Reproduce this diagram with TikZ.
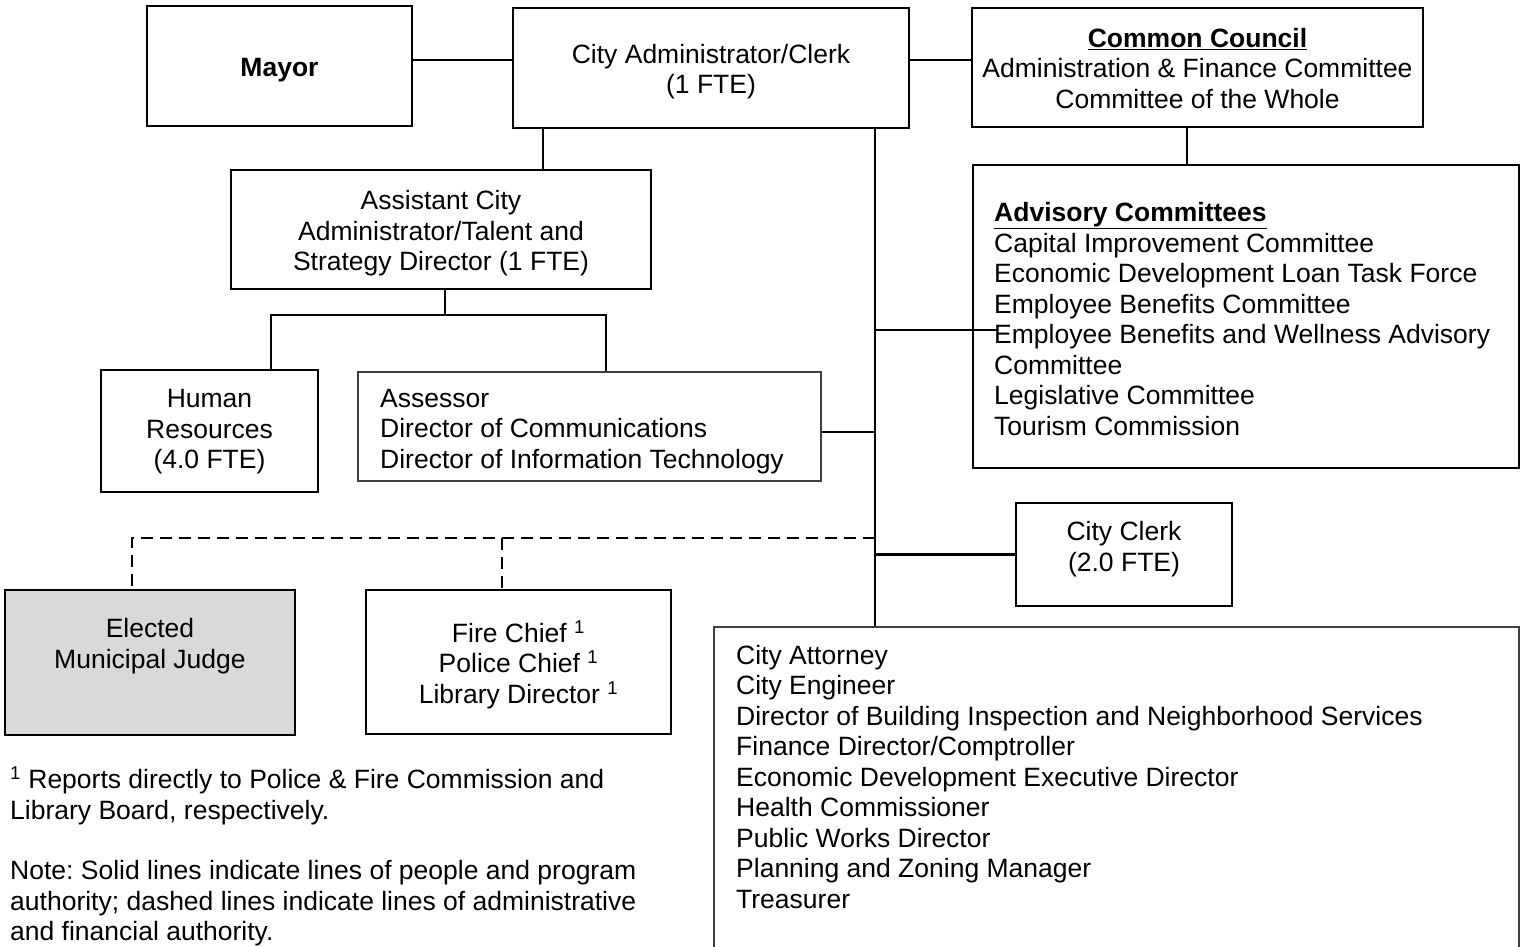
\documentclass[tikz,border=0pt]{standalone}
\usepackage{fontspec}
\setmainfont{Liberation Sans}
\usetikzlibrary{calc}
\definecolor{judgegray}{HTML}{D9D9D9}
\newcommand\chartfont{\fontsize{26.5}{30.5}\selectfont\frenchspacing}
\newcommand\supone{\textsuperscript{1}}
\begin{document}
\begin{tikzpicture}[x=1pt,y=-1pt,
  every node/.style={font=\chartfont, inner sep=0pt, text=black},
  bx/.style 2 args={draw=black, line width=2.4pt, minimum width=#1, minimum height=#2},
  thinbx/.style 2 args={draw=black!75, line width=1.6pt, minimum width=#1, minimum height=#2},
  conn/.style={draw=black, line width=2.2pt},
  dsh/.style={draw=black, line width=2.2pt, dash pattern=on 12pt off 7pt}]
\useasboundingbox (0,0) rectangle (1526,947);
\clip (0,0) rectangle (1526,947);
\fill[white] (0,0) rectangle (1526,947);

% boxes
\node[bx={265pt}{120pt}] (mayor) at (279.5,66) {};
\node[font=\chartfont\bfseries] (mayortxt) at (279.5,70) {Mayor};
\node[bx={396pt}{120pt}] (admin) at (711,68) {};
\node[align=center] (admintxt) at (711,71.5) {City Administrator/Clerk\\(1 FTE)};
\node[bx={451pt}{119pt}] (council) at (1197.5,67.5) {};
\node[align=center] (counciltxt) at (1197.5,68.5) {\underline{\textbf{Common Council}}\\Administration \& Finance Committee\\Committee of the Whole};
\node[bx={546pt}{303pt}] (adv) at (1246,316.5) {};
\node[anchor=west, align=left] (advtxt) at (994,319) {\underline{\textbf{Advisory Committees}}\\Capital Improvement Committee\\Economic Development Loan Task Force\\Employee Benefits Committee\\Employee Benefits and Wellness Advisory\\Committee\\Legislative Committee\\Tourism Commission};
\node[bx={420pt}{119pt}] (asst) at (441,229.5) {};
\node[align=center] (assttxt) at (441,233.5) {Assistant City\\Administrator/Talent and\\Strategy Director (1 FTE)};
\node[bx={217pt}{122pt}] (hr) at (209.5,431) {};
\node[align=center] (hrtxt) at (209.5,432) {Human\\Resources\\(4.0 FTE)};
\node[thinbx={463pt}{109pt}] (asr) at (589.5,426.5) {};
\node[anchor=west, align=left] (asrtxt) at (380,431.5) {Assessor\\Director of Communications\\Director of Information Technology};
\node[bx={216pt}{103pt}] (clerk) at (1124,554.5) {};
\node[align=center] (clerktxt) at (1124,549) {City Clerk\\(2.0 FTE)};
\node[bx={290pt}{145pt}, fill=judgegray] (judge) at (150,662.5) {};
\node[align=center] (judgetxt) at (150,646) {Elected\\Municipal Judge};
\node[bx={305pt}{144pt}] (fire) at (518.5,662) {};
\node[align=center] (firetxt) at (518.5,664.5) {Fire Chief \supone\\Police Chief \supone\\Library Director \supone};
\node[thinbx={805pt}{333pt}] (atty) at (1116.5,793.5) {};
\node[anchor=west, align=left] (attytxt) at (736,777) {City Attorney\\City Engineer\\Director of Building Inspection and Neighborhood Services\\Finance Director/Comptroller\\Economic Development Executive Director\\Health Commissioner\\Public Works Director\\Planning and Zoning Manager\\Treasurer};

% notes
\node[anchor=west, align=left] (fn) at (10,796) {\supone{} Reports directly to Police \& Fire Commission and\\Library Board, respectively.};
\node[anchor=west, align=left] (note) at (10,903.5) {Note: Solid lines indicate lines of people and program\\authority; dashed lines indicate lines of administrative\\and financial authority.};

% helper coordinates
\coordinate (trunkx) at (875,0);
\coordinate (ax) at (543,0);
\coordinate (split) at (445,315);
\coordinate (hrx) at (271,0);
\coordinate (asx) at (606,0);
\coordinate (advend) at (997,330);
\coordinate (dl) at (0,538);
\coordinate (jx) at (132,0);
\coordinate (fx) at (502,0);

% connectors
\draw[conn] ([yshift=6pt]mayor.east) -- ([yshift=6pt]mayor.east -| admin.west);
\draw[conn] ([yshift=8pt]admin.east) -- ([yshift=8pt]admin.east -| council.west);
\draw[conn] ([xshift=-10.5pt]council.south) -- ([xshift=-10.5pt]council.south |- adv.north);
\draw[conn] (admin.south -| ax) -- (asst.north -| ax);
\draw[conn] (asst.south -| split) -- (split);
\draw[conn] (hr.north -| hrx) -- (hrx |- split) -- (asx |- split) -- (asr.north -| asx);
\draw[conn] (admin.south -| trunkx) -- (atty.north -| trunkx);
\draw[conn] ([yshift=-5.5pt]asr.east) -- ([yshift=-5.5pt]asr.east -| trunkx);
\draw[conn] (advend -| trunkx) -- (advend);
\draw[conn] (clerk.west -| trunkx) -- (clerk.west);
\draw[dsh] (dl -| trunkx) -- (dl -| jx) -- (judge.north -| jx);
\draw[dsh] (dl -| fx) -- (fire.north -| fx);
\end{tikzpicture}
\end{document}
